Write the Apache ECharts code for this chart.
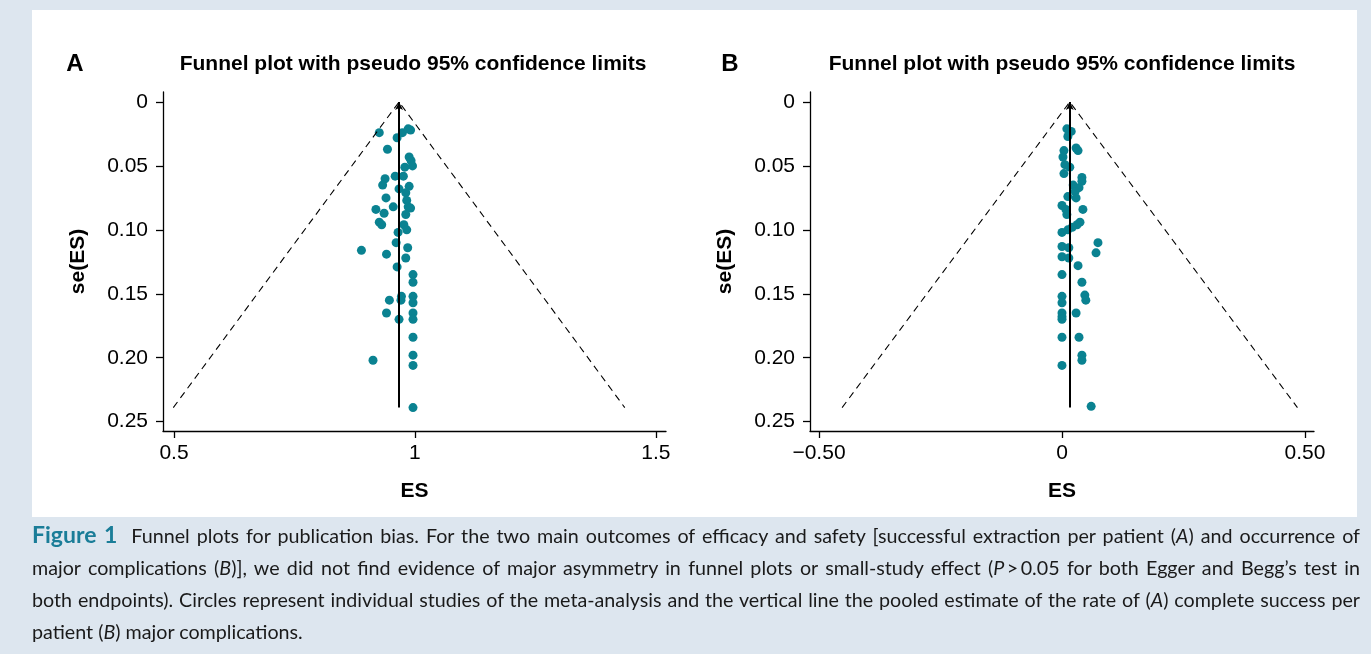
<!DOCTYPE html>
<html>
<head>
<meta charset="utf-8">
<script src="https://cdn.jsdelivr.net/npm/echarts@6/dist/echarts.min.js"></script>
<style>
  html, body { margin: 0; padding: 0; }
  body { width: 1371px; height: 654px; background: #dde6ef; position: relative; overflow: hidden; }
  #panel { position: absolute; left: 32px; top: 10px; width: 1325px; height: 507px; background: #fff; }
  #chart { position: absolute; left: 0; top: 0; width: 1371px; height: 520px; }
  #caption { position: absolute; left: 32px; top: 518px; width: 1328px; font-family: Lato, "Open Sans", sans-serif; font-size: 19.7px; line-height: 32px; color: #1a1a1a; }
  #caption .ln { white-space: nowrap; }
  #caption .j { text-align: justify; text-align-last: justify; }
  #caption b { color: #1a7d98; font-size: 23px; }
</style>
</head>
<body>
<div id="panel"></div>
<div id="chart"></div>
<div id="caption">
  <div class="ln j"><b>Figure 1</b>&nbsp; Funnel plots for publication bias. For the two main outcomes of efficacy and safety [successful extraction per patient (<i>A</i>) and occurrence of</div>
  <div class="ln j">major complications (<i>B</i>)], we did not find evidence of major asymmetry in funnel plots or small-study effect (<i>P</i>&thinsp;&gt;&thinsp;0.05 for both Egger and Begg’s test in</div>
  <div class="ln j">both endpoints). Circles represent individual studies of the meta-analysis and the vertical line the pooled estimate of the rate of (<i>A</i>) complete success per</div>
  <div class="ln">patient (<i>B</i>) major complications.</div>
</div>
<script>
// funnel plot data, [ES, se(ES)]
const seTicks = [0, 0.05, 0.1, 0.15, 0.2, 0.25];
const esTicksA = [0.5, 1, 1.5];
const esTicksB = [-0.5, 0, 0.5];
const panelTitle = "Funnel plot with pseudo 95% confidence limits";

// A: successful extraction per patient
const pooledA = 0.967;
const seMaxA = 0.239;
const studiesA = [
  [0.926, 0.024], [0.963, 0.028], [0.974, 0.024], [0.986, 0.021], [0.991, 0.022],
  [0.943, 0.037], [0.988, 0.043], [0.992, 0.046], [0.995, 0.050], [0.979, 0.051],
  [0.976, 0.058], [0.959, 0.058], [0.938, 0.060], [0.933, 0.065], [0.988, 0.066],
  [0.967, 0.068], [0.981, 0.071], [0.940, 0.075], [0.983, 0.077], [0.986, 0.082],
  [0.991, 0.083], [0.919, 0.084], [0.955, 0.082], [0.936, 0.087], [0.981, 0.088],
  [0.926, 0.094], [0.931, 0.096], [0.977, 0.096], [0.983, 0.100], [0.965, 0.102],
  [0.961, 0.110], [0.985, 0.114], [0.889, 0.116], [0.941, 0.119], [0.981, 0.122],
  [0.963, 0.129], [0.996, 0.135], [0.996, 0.141], [0.972, 0.152], [0.996, 0.152],
  [0.947, 0.155], [0.971, 0.155], [0.996, 0.157], [0.941, 0.165], [0.996, 0.165],
  [0.996, 0.170], [0.967, 0.170], [0.996, 0.184], [0.913, 0.202], [0.996, 0.198],
  [0.996, 0.206], [0.996, 0.239]
];

// B: major complications
const pooledB = 0.016;
const seMaxB = 0.239;
const studiesB = [
  [0.010, 0.021], [0.019, 0.023], [0.012, 0.027], [0.004, 0.038], [0.029, 0.036],
  [0.033, 0.038], [0.002, 0.043], [0.006, 0.049], [0.016, 0.051], [0.004, 0.056],
  [0.041, 0.059], [0.041, 0.062], [0.023, 0.065], [0.035, 0.067], [0.027, 0.070],
  [0.012, 0.074], [0.029, 0.075], [0.000, 0.081], [0.008, 0.084], [0.010, 0.088],
  [0.043, 0.084], [0.037, 0.094], [0.031, 0.096], [0.021, 0.098], [0.012, 0.100],
  [0.000, 0.102], [0.074, 0.110], [0.000, 0.113], [0.014, 0.114], [0.070, 0.118],
  [0.000, 0.121], [0.014, 0.122], [0.033, 0.128], [0.000, 0.135], [0.041, 0.141],
  [0.000, 0.152], [0.047, 0.151], [0.049, 0.155], [0.000, 0.157], [0.000, 0.165],
  [0.029, 0.165], [0.000, 0.168], [0.000, 0.170], [0.000, 0.184], [0.035, 0.184],
  [0.041, 0.198], [0.041, 0.202], [0.000, 0.206], [0.060, 0.238]
];

const FONT = "Liberation Sans, Arial, sans-serif";
const DOT = "#0a8291";

function xAxisFor(idx, min, max, ticks, fmt) {
  return {
    gridIndex: idx, type: "value", min: min, max: max,
    name: "ES", nameLocation: "middle", nameGap: 50,
    nameTextStyle: { fontFamily: FONT, fontWeight: "bold", fontSize: 21, color: "#000" },
    axisLine: { show: true, onZero: false, lineStyle: { color: "#000", width: 1.3 } },
    axisTick: { show: true, customValues: ticks, length: 7, lineStyle: { color: "#000", width: 1.3 } },
    axisLabel: { customValues: ticks, formatter: fmt, fontFamily: FONT, fontSize: 21, color: "#000", margin: 12 },
    splitLine: { show: false }
  };
}

function yAxisFor(idx) {
  return {
    gridIndex: idx, type: "value", inverse: true, min: -0.0078, max: 0.2573,
    name: "se(ES)", nameLocation: "middle", nameGap: 74,
    nameTextStyle: { fontFamily: FONT, fontWeight: "bold", fontSize: 21, color: "#000" },
    axisLine: { show: true, onZero: false, lineStyle: { color: "#000", width: 1.3 } },
    axisTick: { show: true, customValues: seTicks, length: 7, lineStyle: { color: "#000", width: 1.3 } },
    axisLabel: {
      customValues: seTicks, fontFamily: FONT, fontSize: 21, color: "#000", margin: 15,
      formatter: (v) => (v === 0 ? "0" : v.toFixed(2))
    },
    splitLine: { show: false }
  };
}

function seriesFor(idx, pts, pooled, seMax) {
  const half = 1.96 * seMax;
  return [
    {
      type: "line", xAxisIndex: idx, yAxisIndex: idx, symbol: "none", silent: true,
      data: [[pooled - half, seMax], [pooled, 0], [pooled + half, seMax]],
      lineStyle: { color: "#000", width: 1.1, type: [7, 5] }
    },
    {
      type: "scatter", xAxisIndex: idx, yAxisIndex: idx, data: pts,
      symbolSize: 9, itemStyle: { color: DOT, opacity: 1 },
      markLine: {
        silent: true, symbol: ["none", "arrow"], symbolSize: [6, 8],
        label: { show: false },
        lineStyle: { color: "#000", width: 2, type: "solid" },
        data: [[{ coord: [pooled, seMax] }, { coord: [pooled, 0] }]]
      }
    }
  ];
}

function headerText(x, text, size) {
  return {
    type: "text", x: x, y: 64,
    style: { text: text, fontFamily: FONT, fontWeight: "bold", fontSize: size, fill: "#000", align: "center", verticalAlign: "middle" }
  };
}

const chart = echarts.init(document.getElementById("chart"));
chart.setOption({
  backgroundColor: "transparent",
  animation: false,
  grid: [
    { left: 163, top: 92, width: 503, height: 339 },
    { left: 810, top: 92, width: 504, height: 339 }
  ],
  xAxis: [
    xAxisFor(0, 0.4772, 1.521, esTicksA, (v) => String(v)),
    xAxisFor(1, -0.5185, 0.5185, esTicksB, (v) => (v === 0 ? "0" : (v < 0 ? "\u2212" : "") + Math.abs(v).toFixed(2)))
  ],
  yAxis: [yAxisFor(0), yAxisFor(1)],
  graphic: [
    headerText(75, "A", 24),
    headerText(413, panelTitle, 21),
    headerText(730, "B", 24),
    headerText(1062, panelTitle, 21)
  ],
  series: [
    ...seriesFor(0, studiesA, pooledA, seMaxA),
    ...seriesFor(1, studiesB, pooledB, seMaxB)
  ]
});
</script>
</body>
</html>
